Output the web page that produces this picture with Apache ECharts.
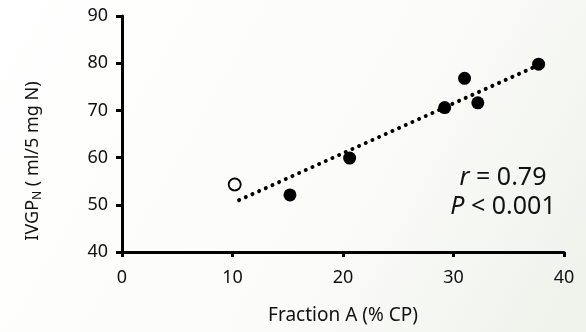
<!DOCTYPE html>
<html>
<head>
<meta charset="utf-8">
<script src="https://cdn.jsdelivr.net/npm/echarts@6/dist/echarts.min.js"></script>
<style>
  html, body { margin: 0; padding: 0; background: #fff; }
  #main { width: 586px; height: 332px; }
</style>
</head>
<body>
<div id="main"></div>
<script>
// filled points: [fraction A, IVGP]
const filledPoints = [
  [15.2, 52.1],
  [20.6, 59.9],
  [29.2, 70.6],
  [31.0, 76.8],
  [32.2, 71.6],
  [37.7, 79.8]
]
// open point (not in regression)
const openPoints = [[10.2, 54.3]]
// fitted line end points
const trendLine = [[10.6, 51.0], [37.7, 79.6]]

const xTicks = [0, 10, 20, 30, 40]
const yTicks = [40, 50, 60, 70, 80, 90]

const font = '"Noto Sans", "Open Sans", sans-serif'

const chart = echarts.init(document.getElementById('main'))

const option = {
  backgroundColor: {
    type: 'linear', x: 0, y: 0, x2: 1, y2: 1,
    colorStops: [
      { offset: 0, color: '#ffffff' },
      { offset: 0.6, color: '#fbfbf9' },
      { offset: 1, color: '#eef2ea' }
    ]
  },
  animation: false,
  textStyle: { fontFamily: font },
  grid: { left: 122, right: 22, top: 16, bottom: 80 },
  xAxis: {
    type: 'value',
    min: xTicks[0],
    max: xTicks[xTicks.length - 1],
    interval: 10,
    name: 'Fraction A (% CP)',
    nameLocation: 'middle',
    nameGap: 54,
    nameTextStyle: { color: '#111', fontSize: 19, fontFamily: font },
    axisLine: { lineStyle: { color: '#000', width: 3 } },
    axisTick: { show: true, length: 5, lineStyle: { color: '#000', width: 3 } },
    axisLabel: { color: '#111', fontSize: 18, margin: 17, fontFamily: font },
    splitLine: { show: false }
  },
  yAxis: {
    type: 'value',
    min: yTicks[0],
    max: yTicks[yTicks.length - 1],
    interval: 10,
    axisLine: { show: true, lineStyle: { color: '#000', width: 3 } },
    axisTick: { show: true, length: 6, lineStyle: { color: '#000', width: 3 } },
    axisLabel: { color: '#111', fontSize: 18, margin: 14, fontFamily: font },
    splitLine: { show: false }
  },
  graphic: [
    {
      type: 'text',
      x: 33,
      y: 161,
      rotation: Math.PI / 2,
      style: {
        text: '{n|IVGP}{s|N}{n| ( ml/5 mg N)}',
        align: 'center',
        verticalAlign: 'middle',
        fill: '#111',
        fontSize: 18,
        fontFamily: font,
        rich: {
          n: { fontSize: 18, fontFamily: font, fill: '#111', lineHeight: 24 },
          s: { fontSize: 12, fontFamily: font, fill: '#111', padding: [10, 0, 0, 0], lineHeight: 24 }
        }
      }
    },
    {
      type: 'text',
      x: 503,
      y: 178,
      style: {
        text: '{i|r}{n| = 0.79}',
        align: 'center',
        verticalAlign: 'middle',
        rich: {
          i: { fontSize: 25, fontStyle: 'italic', fontFamily: font, fill: '#111' },
          n: { fontSize: 25, fontFamily: font, fill: '#111' }
        }
      }
    },
    {
      type: 'text',
      x: 503,
      y: 207,
      style: {
        text: '{i|P}{n| < 0.001}',
        align: 'center',
        verticalAlign: 'middle',
        rich: {
          i: { fontSize: 25, fontStyle: 'italic', fontFamily: font, fill: '#111' },
          n: { fontSize: 25, fontFamily: font, fill: '#111' }
        }
      }
    }
  ],
  series: [
    {
      type: 'line',
      data: trendLine,
      showSymbol: false,
      silent: true,
      lineStyle: { color: '#000', width: 4, type: [0.01, 7.3], cap: 'round' },
      z: 1
    },
    {
      type: 'scatter',
      data: filledPoints,
      symbolSize: 13,
      itemStyle: { color: '#000', opacity: 1 },
      z: 3
    },
    {
      type: 'scatter',
      data: openPoints,
      symbolSize: 12,
      itemStyle: { color: '#fff', borderColor: '#000', borderWidth: 1.8, opacity: 1 },
      z: 3
    }
  ]
}

chart.setOption(option)
</script>
</body>
</html>
